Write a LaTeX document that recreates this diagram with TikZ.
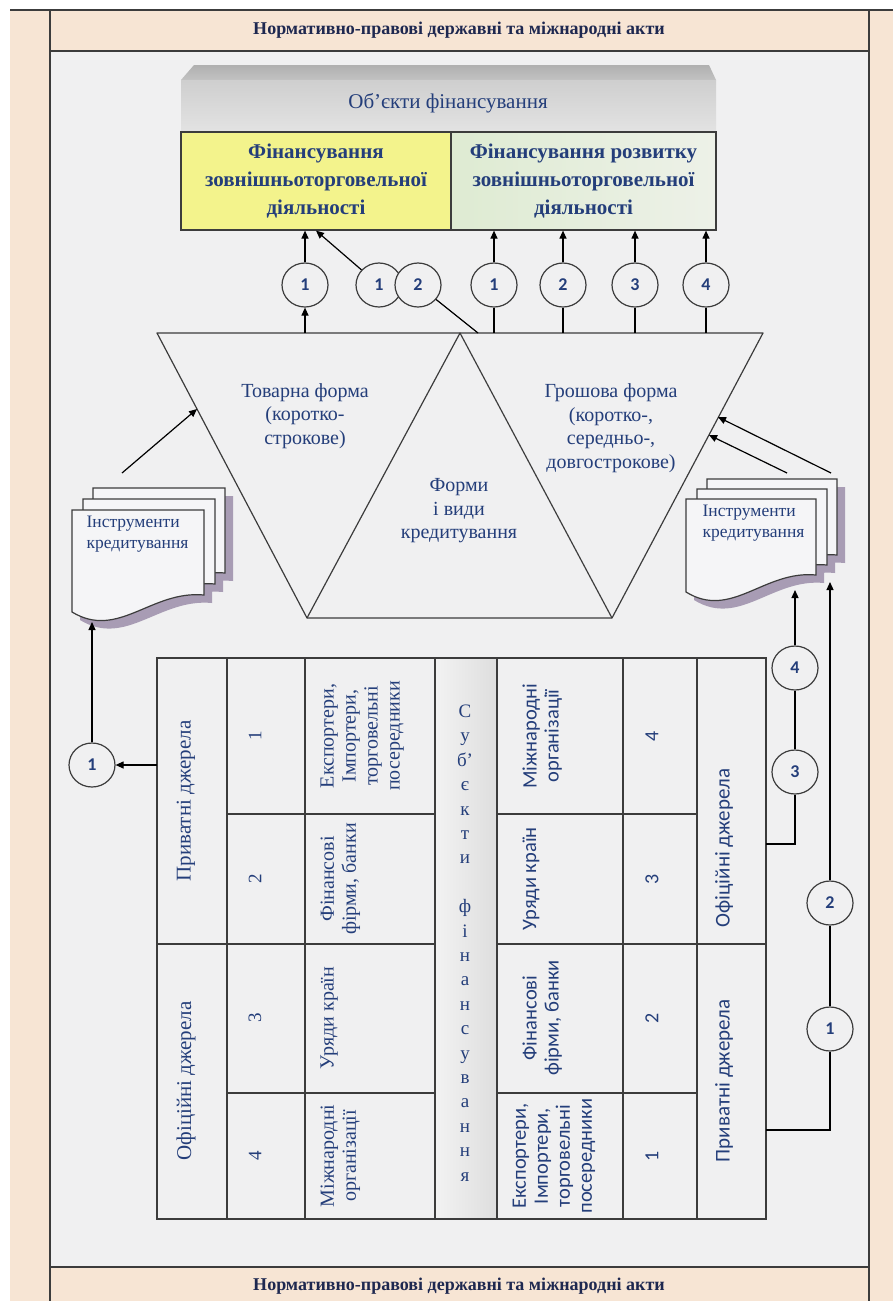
\documentclass[tikz,border=0pt]{standalone}
\usepackage{fontspec}
\setmainfont{Liberation Serif}
\newfontfamily\calibri{Carlito}
\usepackage{tikz}
\usetikzlibrary{arrows.meta,shapes.geometric}

\definecolor{beige}{RGB}{247,229,212}
\definecolor{panel}{RGB}{240,240,241}
\definecolor{ink}{RGB}{36,62,122}
\definecolor{headink}{RGB}{30,40,80}
\definecolor{rule}{RGB}{60,60,60}
\definecolor{lemon}{RGB}{243,243,140}
\definecolor{mint}{RGB}{222,235,210}
\definecolor{mintpale}{RGB}{237,241,232}
\definecolor{docshadow}{RGB}{168,156,180}
\definecolor{sheet}{RGB}{245,245,247}

\newcommand{\docpath}[4]{(#1,#2) -- ({#1+#3},#2) -- ({#1+#3},{#2+#4}) .. controls ({#1+0.6*#3},{#2+#4-5}) and ({#1+0.35*#3},{#2+#4+45}) .. (#1,{#2+#4+17}) -- cycle}

\tikzset{
  band/.style={font=\bfseries\fontsize{18}{20}\selectfont, text=headink},
  num/.style={ellipse, draw=rule, fill=panel, minimum width=46pt, minimum height=44pt, inner sep=0pt, font=\calibri\bfseries\fontsize{18}{20}\selectfont, text=ink},
  objtext/.style={font=\fontsize{21}{24}\selectfont, text=ink},
  cellbox/.style={draw=rule, minimum height=98pt, inner sep=0pt, align=center, font=\bfseries\fontsize{21}{28}\selectfont, text=ink},
  formtext/.style={align=center, font=\fontsize{20}{23.5}\selectfont, text=ink},
  doctext/.style={anchor=north west, inner sep=0pt, align=left, font=\fontsize{17.5}{21}\selectfont, text=ink},
  vtext/.style={rotate=90, anchor=north, inner sep=0pt, align=center, font=\fontsize{20}{22}\selectfont, text=ink},
  vsrc/.style={vtext, font=\fontsize{21}{22}\selectfont},
  vsans/.style={vtext, font=\calibri\fontsize{20.5}{22}\selectfont},
  vsanssrc/.style={vtext, anchor=center, font=\calibri\fontsize{21}{22}\selectfont},
  vnum/.style={rotate=90, inner sep=0pt, font=\fontsize{19}{20}\selectfont, text=ink},
  vnumsans/.style={vnum, font=\calibri\fontsize{20}{20}\selectfont}
}

\begin{document}
\begin{tikzpicture}[x=1pt, y=-1pt, line width=1.2pt, >={Triangle[length=8pt, width=7pt]}]
\useasboundingbox (0,0) rectangle (893,1301);
\fill [white] (0,0) rectangle (893,1301);
\fill [beige] (10,10) rectangle (893,1301);
\fill [panel] (50,51) rectangle (869,1267);
\draw [rule] (10,10) -- (893,10);
\draw [rule] (50,10) -- (50,1301);
\draw [rule] (869,10) -- (869,1301);
\draw [rule] (50,51) -- (869,51);
\draw [rule] (50,1267) -- (869,1267);
\node [band] (actstop) at (459,30) {Нормативно-правові державні та міжнародні акти};
\node [band] (actsbot) at (459,1286) {Нормативно-правові державні та міжнародні акти};

\shade [top color=gray!62, bottom color=gray!48] (181,80) -- (194,65) -- (709,65) -- (716,80) -- cycle;
\shade [top color=gray!38, bottom color=gray!22] (181,80) rectangle (716,132);
\node [objtext] (objects) at (448,103) {Об’єкти фінансування};
\node [cellbox, fill=lemon, minimum width=270pt] (trade) at (316,181) {Фінансування\\зовнішньоторговельної\\діяльності};
\node [cellbox, left color=mint, right color=mintpale, minimum width=265pt] (devel) at (583.5,181) {Фінансування розвитку\\зовнішньоторговельної\\діяльності};

\node [num] (ka) at (305,285) {1};
\node [num] (kb) at (379,285) {1};
\node [num] (kc) at (418,285) {2};
\node [num] (kd) at (494,285) {1};
\node [num] (ke) at (563,285) {2};
\node [num] (kf) at (635,285) {3};
\node [num] (kg) at (706,285) {4};
\draw [->] (ka) -- (ka |- trade.south);
\draw [->] (kb) -- (trade.south);
\draw [->] (kd) -- (kd |- devel.south);
\draw [->] (ke) -- (ke |- devel.south);
\draw [->] (kf) -- (kf |- devel.south);
\draw [->] (kg) -- (kg |- devel.south);

\coordinate (tl) at (157,333);
\coordinate (ap) at (460,333);
\coordinate (tr) at (763,333);
\coordinate (bl) at (307,618);
\coordinate (br) at (612,618);
\coordinate (jn) at (478,333);
\draw [rule, line join=round] (tl) -- (tr) -- (br) -- (bl) -- cycle;
\draw [rule, line join=round] (bl) -- (ap) -- (br);
\draw [->] (ka |- tl) -- (ka);
\draw (kc) -- (jn);
\draw (kd) -- (kd |- tl);
\draw (ke) -- (ke |- tl);
\draw (kf) -- (kf |- tl);
\draw (kg) -- (kg |- tl);
\node [formtext] (goods) at (305,416) {Товарна форма\\(коротко-\\строкове)};
\node [formtext] (money) at (611,428) {Грошова форма\\(коротко-,\\середньо-,\\довгострокове)};
\node [formtext] (kinds) at (459,511) {Форми\\і види\\кредитування};

\fill [docshadow] \docpath{101}{496}{132}{85};
\fill [docshadow] \docpath{91}{507}{132}{85};
\fill [docshadow] \docpath{80}{518}{132}{85};
\draw [rule, fill=sheet] \docpath{93}{488}{132}{85};
\draw [rule, fill=sheet] \docpath{83}{499}{132}{85};
\draw [rule, fill=sheet] \docpath{72}{510}{132}{85};
\node [doctext] (toolsL) at (86,515) {Інструменти\\кредитування};

\fill [docshadow] \docpath{715}{487}{130}{76};
\fill [docshadow] \docpath{705}{497}{130}{76};
\fill [docshadow] \docpath{694}{507}{130}{76};
\draw [rule, fill=sheet] \docpath{707}{479}{130}{76};
\draw [rule, fill=sheet] \docpath{697}{489}{130}{76};
\draw [rule, fill=sheet] \docpath{686}{499}{130}{76};
\node [doctext] (toolsR) at (702,504) {Інструменти\\кредитування};

\coordinate (sl) at (122,473);
\coordinate (el) at (197,409);
\coordinate (sr1) at (787,473);
\coordinate (er1) at (709,435);
\coordinate (sr2) at (831,473);
\coordinate (er2) at (718,417);
\draw [->] (sl) -- (el);
\draw [->] (sr1) -- (er1);
\draw [->] (sr2) -- (er2);

\shade [left color=gray!10, right color=gray!26] (435,658) rectangle (497,1219);
\draw [rule] (157,658) rectangle (766,1219);
\draw [rule] (227,658) -- (227,1219);
\draw [rule] (305,658) -- (305,1219);
\draw [rule] (435,658) -- (435,1219);
\draw [rule] (497,658) -- (497,1219);
\draw [rule] (623,658) -- (623,1219);
\draw [rule] (697,658) -- (697,1219);
\draw [rule] (227,814) -- (435,814);
\draw [rule] (157,944) -- (435,944);
\draw [rule] (227,1093) -- (435,1093);
\draw [rule] (497,814) -- (697,814);
\draw [rule] (497,944) -- (766,944);
\draw [rule] (497,1093) -- (697,1093);

\node [vsrc] (privL) at (176,801) {Приватні джерела};
\node [vsrc] (offL) at (176,1081) {Офіційні джерела};
\node [vnum] (nl1) at (255,736) {1};
\node [vnum] (nl2) at (255,879) {2};
\node [vnum] (nl3) at (255,1018) {3};
\node [vnum] (nl4) at (255,1156) {4};
\node [vtext] (expL) at (320,736) {Експортери,\\Імпортери,\\торговельні\\посередники};
\node [vtext] (finL) at (320,879) {Фінансові\\фірми, банки};
\node [vtext] (govL) at (320,1018) {Уряди країн};
\node [vtext] (intL) at (320,1156) {Міжнародні\\організації};
\node [text=ink, align=center, inner sep=0pt, font=\fontsize{19}{24.4}\selectfont] (subj) at (465,943) {С\\у\\б’\\є\\к\\т\\и\\[24.4pt]ф\\і\\н\\а\\н\\с\\у\\в\\а\\н\\н\\я};
\node [vsans] (intR) at (522,736) {Міжнародні\\організації};
\node [vsans] (govR) at (522,879) {Уряди країн};
\node [vsans] (finR) at (522,1018) {Фінансові\\фірми, банки};
\node [vsans] (expR) at (512,1156) {Експортери,\\Імпортери,\\торговельні\\посередники};
\node [vnumsans] (nr4) at (652,736) {4};
\node [vnumsans] (nr3) at (652,879) {3};
\node [vnumsans] (nr2) at (652,1018) {2};
\node [vnumsans] (nr1) at (652,1156) {1};
\node [vsanssrc] (offR) at (724,848) {Офіційні джерела};
\node [vsanssrc] (privR) at (724,1081) {Приватні джерела};

\node [num] (l1) at (92,765) {1};
\node [num] (r4) at (795,668) {4};
\node [num] (r3) at (795,772) {3};
\node [num] (r2) at (830,903) {2};
\node [num] (r1) at (830,1029) {1};
\coordinate (pl) at (157,765);
\coordinate (dl) at (92,622);
\coordinate (po) at (766,844);
\coordinate (pp) at (766,1130);
\coordinate (dr4) at (795,590);
\coordinate (dr2) at (830,582);
\draw [->] (pl) -- (l1);
\draw [->] (l1) -- (dl);
\draw (po) -| (r3);
\draw (r3) -- (r4);
\draw [->] (r4) -- (dr4);
\draw (pp) -| (r1);
\draw (r1) -- (r2);
\draw [->] (r2) -- (dr2);
\end{tikzpicture}
\end{document}
